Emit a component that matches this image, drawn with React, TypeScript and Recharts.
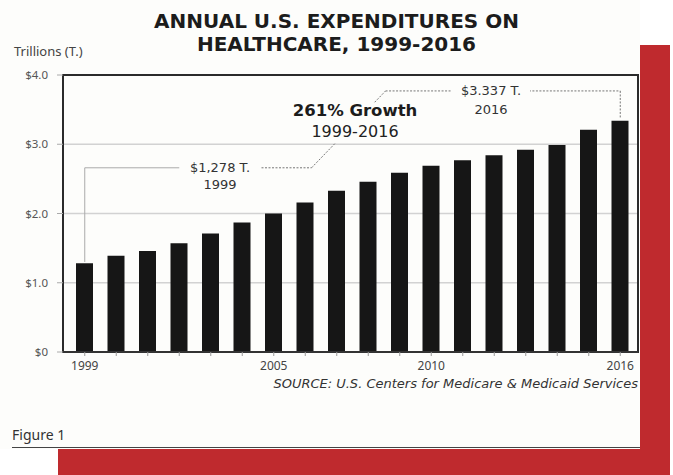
import React from "react";
import {
  ComposedChart,
  Bar,
  XAxis,
  YAxis,
  CartesianGrid,
  ReferenceLine,
  ReferenceArea,
} from "recharts";

// values (trillions of dollars)
const years = [
  "1999", "2000", "2001", "2002", "2003", "2004", "2005", "2006", "2007",
  "2008", "2009", "2010", "2011", "2012", "2013", "2014", "2015", "2016",
];
const spending = [
  1.28, 1.39, 1.46, 1.57, 1.71, 1.87, 2.0, 2.16, 2.33, 2.46, 2.59, 2.69, 2.77,
  2.84, 2.92, 2.99, 3.21, 3.34,
];
const yTicks = [0, 1, 2, 3, 4];
const yearLabels = ["1999", "2005", "2010", "2016"];

// annotation paths as [year, trillions]
const bracket1999: [number, number][] = [
  [1999, 1.3],
  [1999, 2.66],
  [2002.0, 2.66],
];
const leaderLeft: [number, number][] = [
  [2004.5, 2.66],
  [2006.2, 2.66],
  [2008.55, 3.77],
  [2010.75, 3.77],
];
const leaderRight: [number, number][] = [
  [2013.1, 3.77],
  [2016, 3.77],
  [2016, 3.37],
];

const W = 673;
const H = 475;
const PLOT_LEFT = 63;
const PLOT_RIGHT = 638;
const PLOT_TOP = 75;
const PLOT_BOTTOM = 352;
const PAD_L = 6;
const PAD_R = 2;
const Y_AXIS_W = 50;
const X_AXIS_H = 30;

const band = (PLOT_RIGHT - PLOT_LEFT - PAD_L - PAD_R) / years.length;
const firstYear = Number(years[0]);
const lastYear = Number(years[years.length - 1]);
const numDomain: [number, number] = [
  firstYear - (PAD_L + band / 2) / band,
  lastYear + (PAD_R + band / 2) / band,
];

const chartData = years.map((y, i) => ({
  year: y,
  yr: Number(y),
  value: spending[i],
}));

const FONT = "'DejaVu Sans', 'Noto Sans', sans-serif";
const BODY = "'Noto Sans', 'DejaVu Sans', sans-serif";
const CARD = "#fdfdfb";

function segments(path: [number, number][], key: string, dashed: boolean) {
  const out = [];
  for (let i = 0; i < path.length - 1; i++) {
    out.push(
      <ReferenceLine
        key={`${key}-${i}`}
        xAxisId="n"
        ifOverflow="visible"
        segment={[
          { x: path[i][0], y: path[i][1] },
          { x: path[i + 1][0], y: path[i + 1][1] },
        ]}
        stroke={dashed ? "#777" : "#aaa"}
        strokeWidth={1}
        strokeDasharray={dashed ? "2 1.5" : undefined}
      />,
    );
  }
  return out;
}

const text = (
  left: number,
  top: number,
  width: number,
  content: string,
  style: React.CSSProperties,
) => (
  <div
    style={{
      position: "absolute",
      left,
      top,
      width,
      textAlign: "center",
      whiteSpace: "nowrap",
      lineHeight: 1,
      ...style,
    }}
  >
    {content}
  </div>
);

export default function App() {
  return (
    <div
      style={{
        position: "absolute",
        left: 0,
        top: 0,
        width: W,
        height: H,
        background: "#fff",
        overflow: "hidden",
        fontFamily: BODY,
      }}
    >
      {/* red backing frame */}
      <div
        style={{
          position: "absolute",
          left: 58,
          top: 45,
          width: 612,
          height: 440,
          background: "#bf2a2e",
        }}
      />
      {/* white card */}
      <div
        style={{
          position: "absolute",
          left: 0,
          top: 0,
          width: 640,
          height: 449,
          background: CARD,
        }}
      />
      <div
        style={{
          position: "absolute",
          left: 12,
          top: 447,
          width: 628,
          height: 1,
          background: "#444",
        }}
      />

      {/* title */}
      {text(0, 11, 673, "ANNUAL U.S. EXPENDITURES ON", {
        fontFamily: FONT,
        fontWeight: 700,
        fontSize: 20,
        color: "#1c1c1c",
      })}
      {text(0, 34, 673, "HEALTHCARE, 1999-2016", {
        fontFamily: FONT,
        fontWeight: 700,
        fontSize: 20,
        color: "#1c1c1c",
      })}
      <div
        style={{
          position: "absolute",
          left: 14,
          top: 45,
          fontSize: 13,
          color: "#444",
          lineHeight: 1,
        }}
      >
        Trillions (T.)
      </div>

      <div style={{ position: "absolute", left: 0, top: 0 }}>
        <ComposedChart
          width={W}
          height={H}
          data={chartData}
          margin={{
            top: PLOT_TOP,
            left: PLOT_LEFT - Y_AXIS_W,
            right: W - PLOT_RIGHT,
            bottom: H - PLOT_BOTTOM - X_AXIS_H,
          }}
        >
          <CartesianGrid vertical={false} stroke="#d2d2d2" strokeWidth={1.5} />
          <XAxis
            dataKey="year"
            height={X_AXIS_H}
            padding={{ left: PAD_L, right: PAD_R }}
            interval={0}
            tickFormatter={(v: string) => (yearLabels.includes(v) ? v : "")}
            tick={{ fill: "#444", fontSize: 12, fontFamily: BODY }}
            tickSize={4}
            tickMargin={5}
            tickLine={{ stroke: "#999" }}
            axisLine={{ stroke: "#333", strokeWidth: 2 }}
          />
          <XAxis
            xAxisId="n"
            type="number"
            dataKey="yr"
            domain={numDomain}
            allowDataOverflow
            hide
          />
          <YAxis
            width={Y_AXIS_W}
            domain={[0, 4]}
            ticks={yTicks}
            interval={0}
            tickFormatter={(v: number) => (v === 0 ? "$0" : `$${v.toFixed(1)}`)}
            tick={{ fill: "#555", fontSize: 11.5, fontFamily: BODY }}
            tickSize={6}
            tickMargin={9}
            tickLine={{ stroke: "#aaa" }}
            axisLine={false}
          />
          <ReferenceArea
            xAxisId="n"
            x1={numDomain[0]}
            x2={numDomain[1]}
            y1={0}
            y2={4}
            fill="none"
            stroke="#2b2b2b"
            strokeWidth={2}
            ifOverflow="visible"
          />
          {segments(bracket1999, "b", false)}
          {segments(leaderLeft, "l", true)}
          {segments(leaderRight, "r", true)}
          <Bar
            dataKey="value"
            fill="#161616"
            barSize={17}
            isAnimationActive={false}
          />
        </ComposedChart>
      </div>

      {/* annotations */}
      {text(180, 161, 80, "$1,278 T.", {
        fontFamily: FONT,
        fontSize: 13,
        color: "#333",
        background: CARD,
      })}
      {text(180, 178, 80, "1999", { fontFamily: FONT, fontSize: 13, color: "#333" })}
      {text(285, 103, 140, "261% Growth", {
        fontFamily: FONT,
        fontWeight: 700,
        fontSize: 16.5,
        color: "#1c1c1c",
        background: CARD,
        paddingBottom: 4,
      })}
      {text(298, 124, 114, "1999-2016", {
        fontFamily: FONT,
        fontSize: 16,
        color: "#222",
        background: CARD,
        paddingBottom: 3,
      })}
      {text(452, 84, 78, "$3.337 T.", {
        fontFamily: FONT,
        fontSize: 13,
        color: "#333",
        background: CARD,
      })}
      {text(452, 103, 78, "2016", { fontFamily: FONT, fontSize: 13, color: "#333" })}

      <div
        style={{
          position: "absolute",
          right: W - 638,
          top: 377,
          fontFamily: FONT,
          fontSize: 13,
          fontStyle: "italic",
          color: "#333",
          lineHeight: 1,
          whiteSpace: "nowrap",
        }}
      >
        SOURCE: U.S. Centers for Medicare &amp; Medicaid Services
      </div>
      <div
        style={{
          position: "absolute",
          left: 12,
          top: 428,
          fontSize: 14,
          color: "#333",
          lineHeight: 1,
        }}
      >
        Figure 1
      </div>
    </div>
  );
}
